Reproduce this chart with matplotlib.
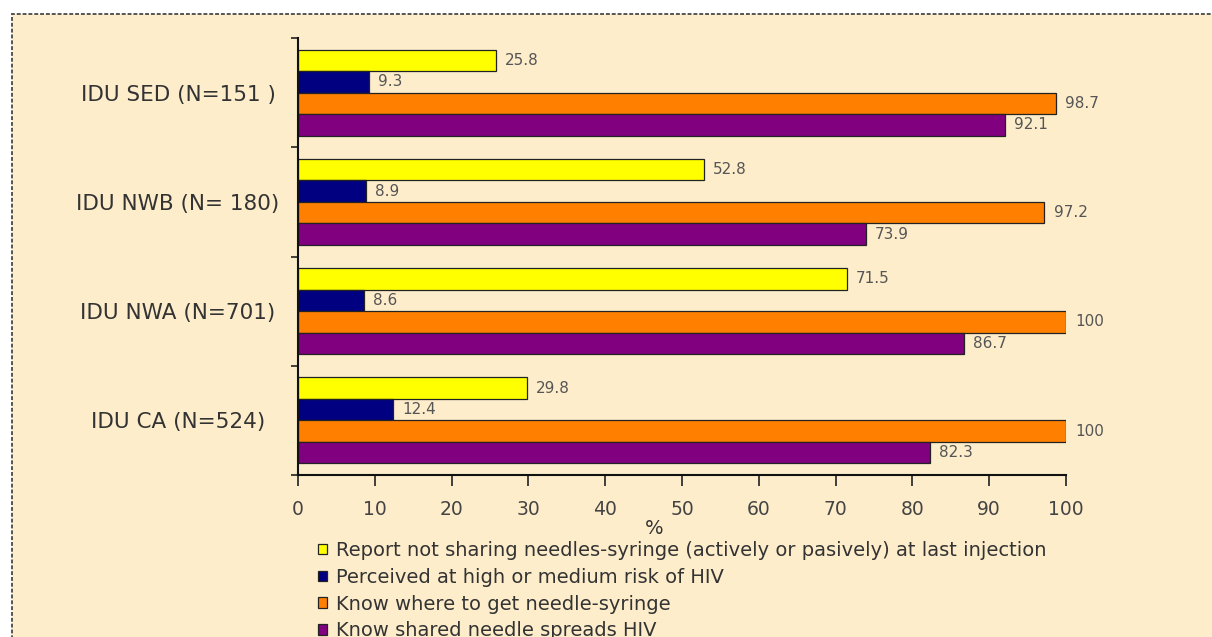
import matplotlib.pyplot as plt
import matplotlib.patches as mpatches
import numpy as np

groups = ["IDU SED (N=151 )", "IDU NWB (N= 180)", "IDU NWA (N=701)", "IDU CA (N=524)"]
not_sharing = [25.8, 52.8, 71.5, 29.8]
perceived_risk = [9.3, 8.9, 8.6, 12.4]
know_where = [98.7, 97.2, 100, 100]
know_spreads = [92.1, 73.9, 86.7, 82.3]

series_labels = [
    "Report not sharing needles-syringe (actively or pasively) at last injection",
    "Perceived at high or medium risk of HIV",
    "Know where to get needle-syringe",
    "Know shared needle spreads HIV",
]
series_values = [not_sharing, perceived_risk, know_where, know_spreads]
colours = ["#FFFF00", "#000080", "#FF8000", "#800080"]
x_ticks = [0, 10, 20, 30, 40, 50, 60, 70, 80, 90, 100]

plt.rcParams["font.family"] = ["DejaVu Sans"]
text_col = "#333333"
bg = "#FDEDCB"

fig = plt.figure(figsize=(12.12, 6.37), dpi=100, facecolor="white")
W, H = 1212, 637

# panel background with dashed frame (runs off the right/bottom edge)
panel = mpatches.Rectangle((12 / W, -0.02), 1.05, 1 - 14 / H + 0.02, transform=fig.transFigure,
                           facecolor=bg, edgecolor="#555555", linestyle=(0, (2, 1)), lw=1.4, zorder=-10)
fig.patches.append(panel)

ax = fig.add_axes([298 / W, 1 - 475 / H, (1066 - 298) / W, (475 - 38) / H])
ax.set_facecolor("none")

y = np.arange(len(groups))
bar_h = 0.197
offsets = [-1.5 * bar_h, -0.5 * bar_h, 0.5 * bar_h, 1.5 * bar_h]
handles = []
for vals, off, col, lab in zip(series_values, offsets, colours, series_labels):
    bars = ax.barh(y + off, vals, height=bar_h, color=col, edgecolor="#222222", linewidth=0.9, label=lab)
    handles.append(bars)
    for yy, v in zip(y + off, vals):
        ax.annotate(f"{v:g}", (v, yy), xytext=(6.5, 0), textcoords="offset points",
                    ha="left", va="center", fontsize=11, color="#555555")

ax.set_ylim(len(groups) - 0.5, -0.5)
ax.set_xlim(0, 100)
ax.set_xticks(x_ticks)
ax.set_xticklabels([str(t) for t in x_ticks], fontsize=13.5, color="#444444")
ax.tick_params(axis="x", direction="out", length=8, width=1.2, pad=10, color="#222222")

# category labels centred in the gutter left of the axis
ax.set_yticks(y)
ax.set_yticklabels(groups, fontsize=15.5, color=text_col)
ax.tick_params(axis="y", which="major", length=0, pad=(298 - 178) * 0.72)
for lbl in ax.get_yticklabels():
    lbl.set_horizontalalignment("center")
ax.set_yticks(np.arange(len(groups) + 1) - 0.5, minor=True)
ax.tick_params(axis="y", which="minor", direction="out", length=5, width=1.2, color="#222222")

for side in ("top", "right"):
    ax.spines[side].set_visible(False)
for side in ("left", "bottom"):
    ax.spines[side].set_linewidth(1.5)
    ax.spines[side].set_color("#111111")

ax.text(0.4635, -0.123, "%", transform=ax.transAxes, ha="center", va="center", fontsize=14, color=text_col)

ax.legend(handles, series_labels, loc="upper left", bbox_to_anchor=(318 / W, 1 - 541 / H),
          bbox_transform=fig.transFigure, frameon=False, fontsize=14, handlelength=0.45,
          handleheight=0.45, handletextpad=0.5, labelspacing=0.4, borderpad=0, borderaxespad=0,
          labelcolor=text_col)

fig.savefig("out.png", dpi=100, facecolor="white")
